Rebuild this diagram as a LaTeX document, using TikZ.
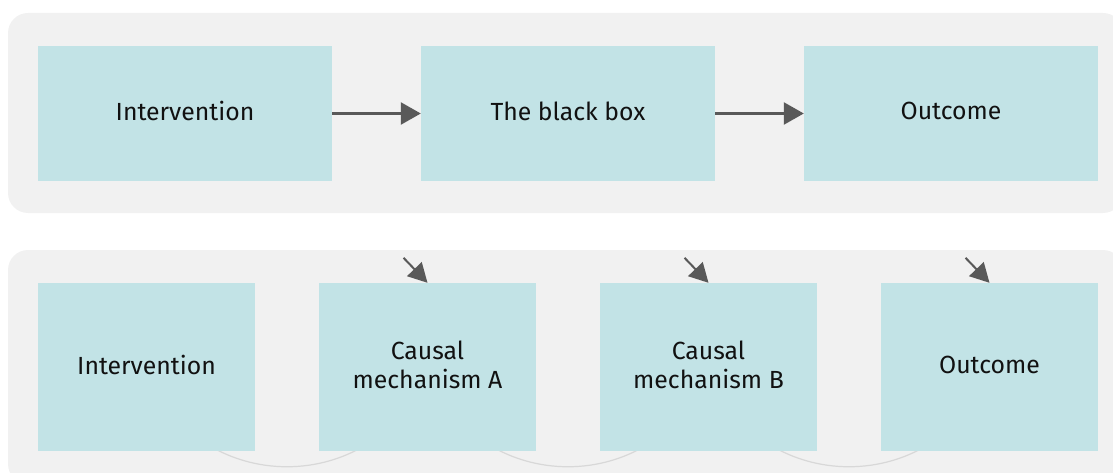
\documentclass[tikz,border=0pt]{standalone}
\usepackage{fontspec}
\setmainfont{Fira Sans}
\usetikzlibrary{arrows.meta,backgrounds}
\definecolor{panelgray}{HTML}{F1F1F1}
\definecolor{boxteal}{HTML}{C2E3E6}
\definecolor{arrowgray}{HTML}{595959}
\definecolor{arcgray}{HTML}{D8D8D8}
\definecolor{textdark}{HTML}{111111}
\begin{document}
\begin{tikzpicture}[x=1pt,y=-1pt,
  panel/.style={fill=panelgray, rounded corners=20pt},
  box/.style={fill=boxteal, inner sep=0pt, text=textdark, align=center,
    font=\fontsize{24.8}{29}\selectfont, text depth=0.45em},
  widebox/.style={box, minimum width=294pt, minimum height=135pt},
  tallbox/.style={box, minimum width=217pt, minimum height=168pt},
  flow/.style={draw=arrowgray, line width=2.5pt, -{Triangle[length=20pt,width=22pt]}},
  feed/.style={draw=arrowgray, line width=2pt, -{Triangle[length=19pt,width=20pt]}},
  link/.style={draw=arcgray, line width=1.2pt}
]
\useasboundingbox (0,0) rectangle (1113,473);

% top row: the black-box view
\node[widebox] (t1) at (185,113.5) {Intervention};
\node[widebox] (t2) at (568,113.5) {The black box};
\node[widebox] (t3) at (951,113.5) {Outcome};

% bottom row: the opened box
\node[tallbox] (b1) at (146.5,367) {Intervention};
\node[tallbox] (b2) at (427.5,367) {Causal\\mechanism A};
\node[tallbox] (b3) at (708.5,367) {Causal\\mechanism B};
\node[tallbox] (b4) at (989.5,367) {Outcome};

\begin{scope}[on background layer]
  \fill[panel] (8,13) rectangle (1123,213);
  \fill[panel] (8,250) rectangle (1123,484);
  % faint links between neighbouring steps, running under the boxes
  \draw[link] (b1.center) .. controls ([shift={(46,133)}]b1.center) and ([shift={(-46,133)}]b2.center) .. (b2.center);
  \draw[link] (b2.center) .. controls ([shift={(46,133)}]b2.center) and ([shift={(-46,133)}]b3.center) .. (b3.center);
  \draw[link] (b3.center) .. controls ([shift={(46,133)}]b3.center) and ([shift={(-46,133)}]b4.center) .. (b4.center);
\end{scope}

\draw[flow] (t1.east) -- (t2.west);
\draw[flow] (t2.east) -- (t3.west);

\coordinate (f2) at ([shift={(-24,-25)}]b2.north);
\coordinate (f3) at ([shift={(-24,-25)}]b3.north);
\coordinate (f4) at ([shift={(-24,-25)}]b4.north);
\draw[feed] (f2) -- (b2.north);
\draw[feed] (f3) -- (b3.north);
\draw[feed] (f4) -- (b4.north);
\end{tikzpicture}
\end{document}
